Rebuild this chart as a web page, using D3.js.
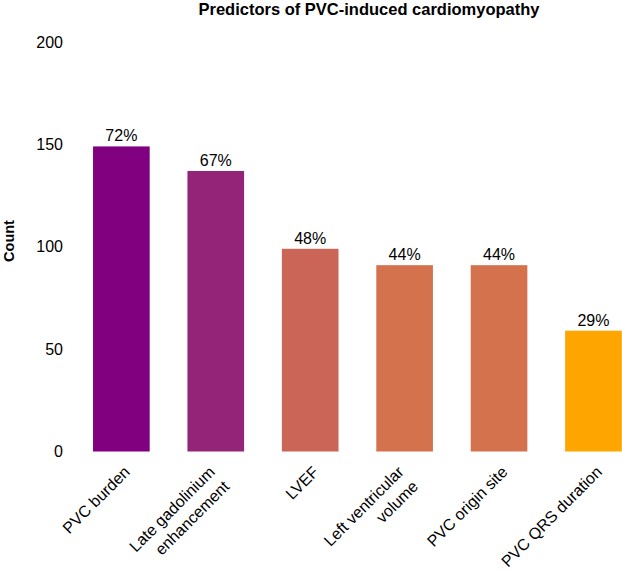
<!DOCTYPE html>
<html>
<head>
<meta charset="utf-8">
<script src="https://cdn.jsdelivr.net/npm/d3@7"></script>
<style>
  body { margin: 0; background: #fff; }
  svg { font-family: "Liberation Sans", Arial, sans-serif; }
</style>
</head>
<body>
<div id="chart"></div>
<script>
// data
let predictors = ["PVC burden", "Late gadolinium\nenhancement", "LVEF",
    "Left ventricular\nvolume", "PVC origin site", "PVC QRS duration"]
let counts = [149, 137, 99, 91, 91, 59]
let percents = ["72%", "67%", "48%", "44%", "44%", "29%"]
let yTicks = [0, 50, 100, 150, 200]

let width = 622, height = 572

let svg = d3.select("#chart")
    .append("svg")
    .attr("width", width)
    .attr("height", height)

// scales
let xS = d3.scaleBand()
    .domain(d3.range(predictors.length))
    .range([64.7, 650.1])
    .paddingInner(0.4)
    .paddingOuter(0.3)

let yS = d3.scaleLinear()
    .domain([0, 200])
    .range([451.5, 42])

let colorS = d3.scaleLinear()
    .domain([d3.min(counts), d3.max(counts)])
    .range(["#FFA500", "#800080"])
    .interpolate(d3.interpolateLab)

// title
svg.append("text")
    .attr("x", 369)
    .attr("y", 15)
    .attr("text-anchor", "middle")
    .style("font-size", "16.5px")
    .style("font-weight", "bold")
    .text("Predictors of PVC-induced cardiomyopathy")

// y axis label
svg.append("text")
    .attr("transform", "translate(14,241) rotate(-90)")
    .attr("text-anchor", "middle")
    .style("font-size", "14.5px")
    .style("font-weight", "bold")
    .text("Count")

// y axis, labels only
let yAxis = svg.append("g")
    .attr("transform", "translate(68,0)")
    .call(d3.axisLeft(yS).tickValues(yTicks).tickSize(0).tickPadding(5))
yAxis.select(".domain").remove()
yAxis.selectAll("text")
    .style("font-size", "16px")
    .style("font-family", "Liberation Sans, Arial, sans-serif")
    .attr("fill", "#000")

// bars
svg.selectAll("rect.bar")
    .data(counts)
    .enter()
    .append("rect")
    .attr("class", "bar")
    .attr("x", function (d, i) {return xS(i);})
    .attr("y", function (d) {return yS(d);})
    .attr("width", xS.bandwidth())
    .attr("height", function (d) {return yS(0) - yS(d);})
    .attr("fill", function (d) {return colorS(d);})

// percent labels
svg.selectAll("text.pct")
    .data(counts)
    .enter()
    .append("text")
    .attr("class", "pct")
    .attr("x", function (d, i) {return xS(i) + xS.bandwidth() / 2;})
    .attr("y", function (d) {return yS(d) - 5;})
    .attr("text-anchor", "middle")
    .style("font-size", "16px")
    .text(function (d, i) {return percents[i];})

// rotated category labels
let lh = 20.5
predictors.forEach(function (p, i) {
    let lines = p.split("\n")
    let cx = xS(i) + xS.bandwidth() / 2
    let g = svg.append("g")
        .attr("transform", "translate(" + (cx + 9.5) + ",473) rotate(-45)")
    let off = -(lines.length - 1) * 6.7
    lines.forEach(function (ln, j) {
        g.append("text")
            .attr("x", off)
            .attr("y", off + j * lh)
            .attr("text-anchor", "end")
            .style("font-size", "16px")
            .text(ln)
    })
})
</script>
</body>
</html>
